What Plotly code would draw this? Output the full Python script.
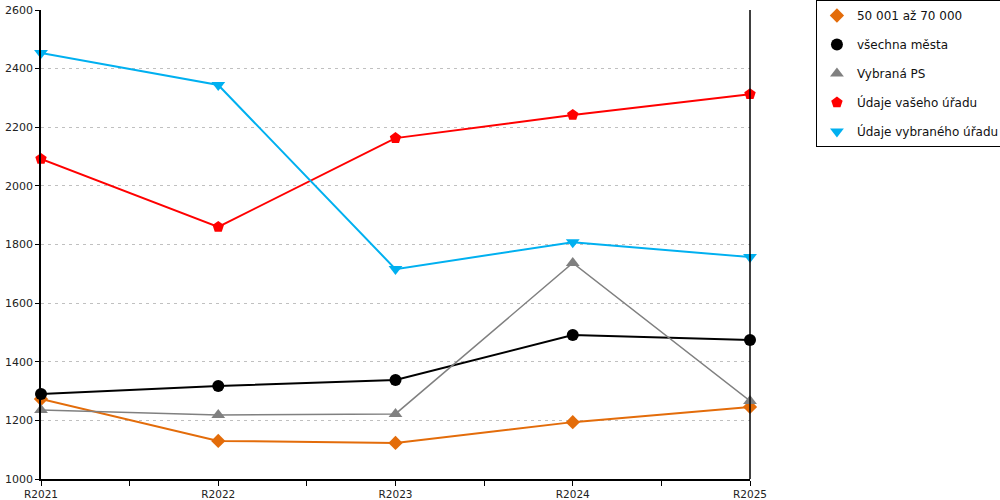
import plotly.graph_objects as go

# Data
years = ["R2021", "R2022", "R2023", "R2024", "R2025"]
skupina_50_70 = [1273, 1130, 1123, 1194, 1246]
vsechna_mesta = [1290, 1317, 1338, 1491, 1474]
vybrana_ps = [1235, 1218, 1222, 1737, 1266]
vas_urad = [2092, 1860, 2163, 2242, 2313]
vybrany_urad = [2453, 2344, 1716, 1808, 1757]

series = [
    ("50 001 až 70 000", skupina_50_70, "#E36C0A", "diamond", 11, 2),
    ("všechna města", vsechna_mesta, "#000000", "circle", 12, 2),
    ("Vybraná PS", vybrana_ps, "#808080", "triangle-up", 12, 1.5),
    ("Údaje vašeho úřadu", vas_urad, "#FF0000", "pentagon", 12, 2),
    ("Údaje vybraného úřadu", vybrany_urad, "#00B0F0", "triangle-down", 12, 2),
]

x_idx = list(range(len(years)))

fig = go.Figure()
for i, (name, vals, color, symbol, size, width) in enumerate(series):
    # line without legend entry, markers carry the legend (marker only, like the original)
    fig.add_trace(go.Scatter(
        x=x_idx, y=vals, name=name, mode="lines",
        legendgroup=f"g{i}", showlegend=False,
        line=dict(color=color, width=width),
        cliponaxis=False,
    ))
    fig.add_trace(go.Scatter(
        x=x_idx, y=vals, name=name, mode="markers",
        legendgroup=f"g{i}",
        marker=dict(symbol=symbol, size=size, color=color),
        cliponaxis=False,
    ))

# ticks at each category and halfway between
tick_vals = [v / 2 for v in range(2 * len(years) - 1)]
tick_text = [years[int(v)] if v == int(v) else "" for v in tick_vals]

fig.update_layout(
    width=1000, height=500,
    margin=dict(l=41, r=250, t=10, b=21, autoexpand=False),
    plot_bgcolor="white", paper_bgcolor="white",
    font=dict(family="DejaVu Sans", size=11, color="#222222"),
    legend=dict(
        x=1.093, y=1.0213, xanchor="left", yanchor="top",
        bordercolor="black", borderwidth=1,
        font=dict(size=12, color="#111111"),
        tracegroupgap=10,
    ),
    xaxis=dict(
        range=[0, len(years) - 1], tickmode="array",
        tickvals=tick_vals, ticktext=tick_text,
        showgrid=False, zeroline=False, automargin=False,
        showline=True, linecolor="black", linewidth=1.5,
        ticks="outside", ticklen=5, tickcolor="black",
        tickfont=dict(size=10.5),
    ),
    yaxis=dict(
        range=[1000, 2600], dtick=200, automargin=False,
        showgrid=True, gridcolor="#C0C0C0", griddash="3px,4px", gridwidth=1,
        zeroline=False,
        showline=True, linecolor="black", linewidth=1.5,
        ticks="outside", ticklen=4, tickcolor="black",
    ),
    shapes=[dict(
        type="line", xref="x domain", yref="y domain",
        x0=1, x1=1, y0=0, y1=1,
        line=dict(color="black", width=1.5),
    )],
)

# drop the browser's default 8px body margin so the figure fills the window
fig.write_html("out.html", config={"displayModeBar": False},
               post_script="document.body.style.margin='0';")
